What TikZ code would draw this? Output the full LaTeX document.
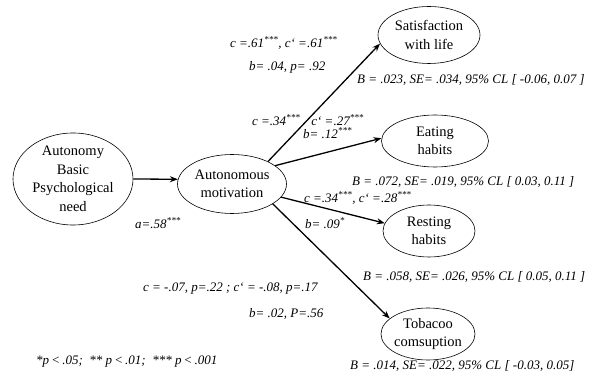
\documentclass[tikz,border=0pt]{standalone}
\usepackage{fontspec}
\setmainfont{Liberation Serif}
\usetikzlibrary{shapes.geometric,arrows.meta}
\newcommand{\sig}[1]{\textsuperscript{#1}}
\begin{document}
\begin{tikzpicture}[x=1pt,y=-1pt,
  var/.style={draw,ellipse,line width=0.6pt,inner xsep=-1pt,inner ysep=0pt,align=center,font=\fontsize{14.5}{18.5}\selectfont},
  coef/.style={anchor=west,inner sep=0pt,font=\fontsize{13}{15}\selectfont\itshape},
  effect/.style={line width=1.3pt,-{Stealth[length=8pt,width=6pt]}}]

\useasboundingbox (0,0) rectangle (595,374);

% the variables
\node[var,minimum width=120pt,minimum height=92pt,inner ysep=-3pt] (need) at (73,179) {Autonomy\\Basic\\Psychological\\need};
\node[var,minimum width=109pt,minimum height=59pt] (motiv) at (232,184) {Autonomous\\motivation};
\node[var,minimum width=102pt,minimum height=57pt] (life) at (429,35) {Satisfaction\\with life};
\node[var,minimum width=107pt,minimum height=52pt] (eat) at (435,141) {Eating\\habits};
\node[var,minimum width=92pt,minimum height=52pt] (rest) at (429,231) {Resting\\habits};
\node[var,minimum width=94pt,minimum height=52pt] (tob) at (428,334) {Tobacoo\\comsuption};

% the paths
\draw[effect] (need.east) -- (motiv.175);
\draw[effect] (motiv.32) -- (life.190);
\draw[effect] (motiv.23) -- (eat.177);
\draw[effect] (motiv.-15) -- (rest.170);
\draw[effect] (motiv.-26) -- (tob.158);

% coefficients
\node[coef] (a) at (135,223) {a=.58\sig{***}};
\node[coef] (clife) at (230,43) {c =.61\sig{***}, c‘ =.61\sig{***}};
\node[coef] (blife) at (249,67) {b= .04, p= .92};
\node[coef] (Blife) at (357,80) {B = .023, SE= .034, 95\% CL [ -0.06, 0.07 ]};
\node[coef] (ceat) at (252,120) {c =.34\sig{***}\hspace{11pt}c‘ =.27\sig{***}};
\node[coef] (beat) at (303,133) {b= .12\sig{***}};
\node[coef] (Beat) at (352,182) {B = .072, SE= .019, 95\% CL [ 0.03, 0.11 ]};
\node[coef] (crest) at (304,198) {c =.34\sig{***}, c‘ =.28\sig{***}};
\node[coef] (brest) at (305,223) {b= .09\sig{*}};
\node[coef] (Brest) at (363,277) {B = .058, SE= .026, 95\% CL [ 0.05, 0.11 ]};
\node[coef] (ctob) at (143,289) {c = -.07, p=.22 ; c‘ = -.08, p=.17};
\node[coef] (btob) at (249,314) {b= .02, P=.56};
\node[coef] (Btob) at (350,366) {B = .014, SE= .022, 95\% CL [ -0.03, 0.05]};

% significance levels
\node[coef] (note) at (36,362) {*p\,<\,.05;\ \ ** p\,<\,.01;\ \ *** p\,<\,.001};
\end{tikzpicture}
\end{document}
